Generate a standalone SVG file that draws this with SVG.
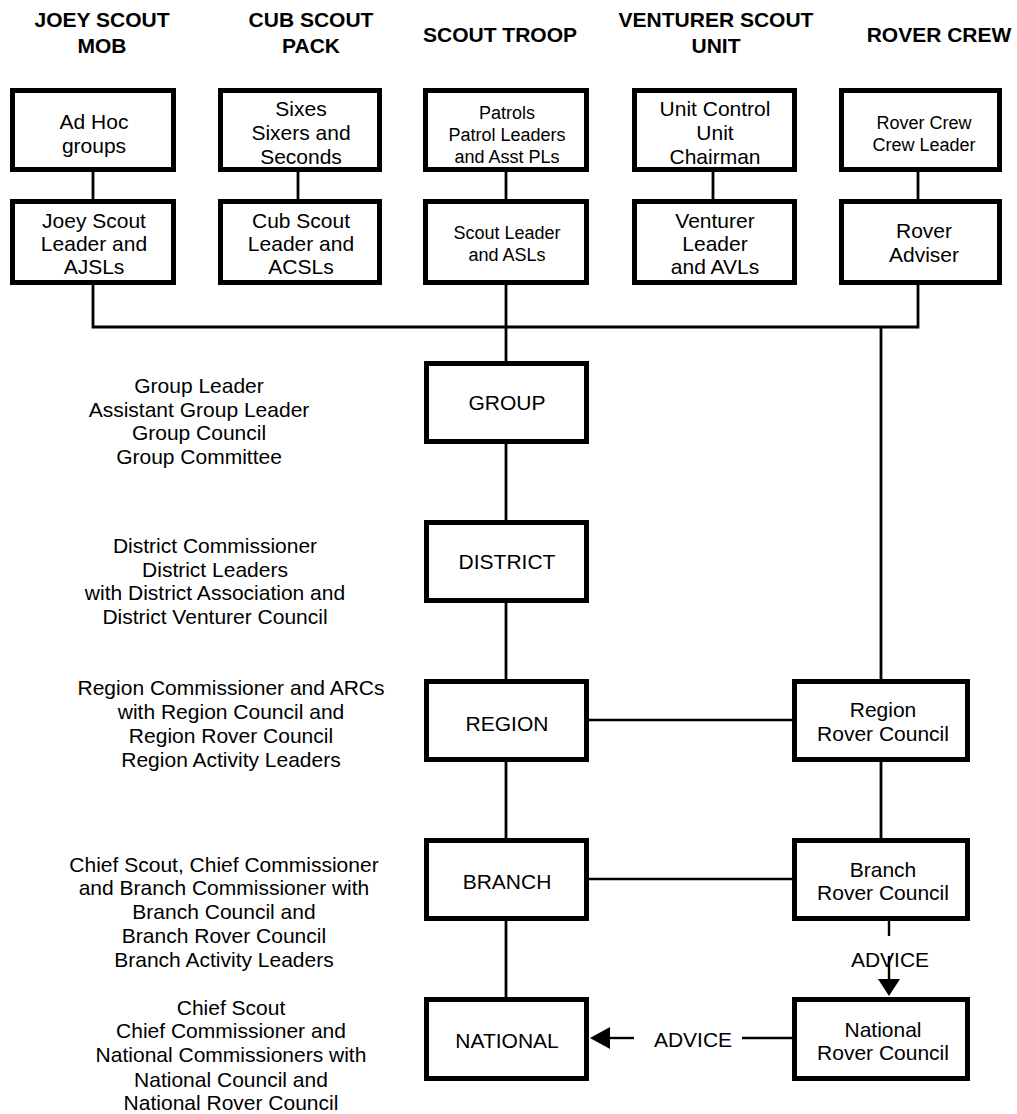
<svg xmlns="http://www.w3.org/2000/svg" width="1017" height="1114" viewBox="0 0 1017 1114">
<style>
text{font-family:"Liberation Sans",Arial,sans-serif;fill:#000;text-anchor:middle}
.t{font-size:21px;font-weight:bold}
.b{font-size:21px}
.s{font-size:18px}
.box{fill:#fff;stroke:#000;stroke-width:5}
.c{stroke:#000;stroke-width:2.8;fill:none}
.h{stroke:#000;stroke-width:2.4;fill:none}
</style>
<rect width="1017" height="1114" fill="#fff"/>
<g id="titles">
<text class="t" x="102" y="27">JOEY SCOUT</text>
<text class="t" x="102" y="53">MOB</text>
<text class="t" x="311" y="27">CUB SCOUT</text>
<text class="t" x="311" y="53">PACK</text>
<text class="t" x="500" y="42">SCOUT TROOP</text>
<text class="t" x="716" y="27">VENTURER SCOUT</text>
<text class="t" x="716" y="53">UNIT</text>
<text class="t" x="939" y="42">ROVER CREW</text>
</g>
<g id="connectors">
<line class="c" x1="93" y1="172" x2="93" y2="199"/>
<line class="c" x1="298" y1="172" x2="298" y2="199"/>
<line class="c" x1="506" y1="172" x2="506" y2="199"/>
<line class="c" x1="713" y1="172" x2="713" y2="199"/>
<line class="c" x1="918" y1="172" x2="918" y2="199"/>
<polyline class="c" points="93,285 93,327 918,327 918,285"/>
<line class="c" x1="506" y1="285" x2="506" y2="361"/>
<line class="c" x1="881" y1="327" x2="881" y2="680"/>
<line class="c" x1="506" y1="444" x2="506" y2="520"/>
<line class="c" x1="506" y1="603" x2="506" y2="679"/>
<line class="c" x1="506" y1="762" x2="506" y2="838"/>
<line class="c" x1="506" y1="921" x2="506" y2="997"/>
<line class="c" x1="881" y1="762" x2="881" y2="838"/>
<line class="h" x1="589" y1="720" x2="792" y2="720"/>
<line class="h" x1="589" y1="879" x2="792" y2="879"/>
<line class="h" x1="889" y1="921" x2="889" y2="936"/>
<line class="h" x1="889" y1="956" x2="889" y2="981"/>
<polygon points="878,979 900,979 889,996" fill="#000"/>
<text class="b" x="890" y="967">ADVICE</text>
<line class="h" x1="792" y1="1038" x2="742" y2="1038"/>
<line class="h" x1="634" y1="1038" x2="608" y2="1038"/>
<polygon points="610,1027 610,1049 590,1038" fill="#000"/>
<text class="b" x="693" y="1047">ADVICE</text>
</g>
<g id="joey-top"><rect class="box" x="12.5" y="90.5" width="161" height="79"/>
<text class="b" x="94" y="129">Ad Hoc</text><text class="b" x="94" y="153">groups</text></g>
<g id="joey-bottom"><rect class="box" x="12.5" y="201.5" width="161" height="81"/>
<text class="b" x="94" y="228">Joey Scout</text><text class="b" x="94" y="251">Leader and</text><text class="b" x="94" y="274">AJSLs</text></g>
<g id="cub-top"><rect class="box" x="220.5" y="90.5" width="159" height="79"/>
<text class="b" x="301" y="116">Sixes</text><text class="b" x="301" y="140">Sixers and</text><text class="b" x="301" y="164">Seconds</text></g>
<g id="cub-bottom"><rect class="box" x="220.5" y="201.5" width="159" height="81"/>
<text class="b" x="301" y="228">Cub Scout</text><text class="b" x="301" y="251">Leader and</text><text class="b" x="301" y="274">ACSLs</text></g>
<g id="scout-top"><rect class="box" x="425.5" y="90.5" width="161" height="79"/>
<text class="s" x="507" y="119">Patrols</text><text class="s" x="507" y="141">Patrol Leaders</text><text class="s" x="507" y="163">and Asst PLs</text></g>
<g id="scout-bottom"><rect class="box" x="425.5" y="201.5" width="161" height="81"/>
<text class="s" x="507" y="239">Scout Leader</text><text class="s" x="507" y="261">and ASLs</text></g>
<g id="venturer-top"><rect class="box" x="634.5" y="90.5" width="160" height="79"/>
<text class="b" x="715" y="116">Unit Control</text><text class="b" x="715" y="140">Unit</text><text class="b" x="715" y="164">Chairman</text></g>
<g id="venturer-bottom"><rect class="box" x="634.5" y="201.5" width="160" height="81"/>
<text class="b" x="715" y="228">Venturer</text><text class="b" x="715" y="251">Leader</text><text class="b" x="715" y="274">and AVLs</text></g>
<g id="rover-top"><rect class="box" x="841.5" y="90.5" width="158" height="79"/>
<text class="s" x="924" y="129">Rover Crew</text><text class="s" x="924" y="151">Crew Leader</text></g>
<g id="rover-bottom"><rect class="box" x="841.5" y="201.5" width="158" height="81"/>
<text class="b" x="924" y="238">Rover</text><text class="b" x="924" y="262">Adviser</text></g>
<g id="group"><rect class="box" x="426.5" y="363.5" width="160" height="78"/>
<text class="b" x="507" y="410">GROUP</text></g>
<g id="district"><rect class="box" x="426.5" y="522.5" width="160" height="78"/>
<text class="b" x="507" y="569">DISTRICT</text></g>
<g id="region"><rect class="box" x="426.5" y="681.5" width="160" height="78"/>
<text class="b" x="507" y="731">REGION</text></g>
<g id="branch"><rect class="box" x="426.5" y="840.5" width="160" height="78"/>
<text class="b" x="507" y="889">BRANCH</text></g>
<g id="national"><rect class="box" x="426.5" y="999.5" width="160" height="79"/>
<text class="b" x="507" y="1048">NATIONAL</text></g>
<g id="region-rover"><rect class="box" x="794.5" y="681.5" width="173" height="78"/>
<text class="b" x="883" y="717">Region</text><text class="b" x="883" y="741">Rover Council</text></g>
<g id="branch-rover"><rect class="box" x="794.5" y="840.5" width="173" height="78"/>
<text class="b" x="883" y="877">Branch</text><text class="b" x="883" y="900">Rover Council</text></g>
<g id="national-rover"><rect class="box" x="794.5" y="999.5" width="173" height="79"/>
<text class="b" x="883" y="1037">National</text><text class="b" x="883" y="1060">Rover Council</text></g>
<g id="group-desc">
<text class="b" x="199" y="393">Group Leader</text>
<text class="b" x="199" y="417">Assistant Group Leader</text>
<text class="b" x="199" y="440">Group Council</text>
<text class="b" x="199" y="464">Group Committee</text>
</g>
<g id="district-desc">
<text class="b" x="215" y="553">District Commissioner</text>
<text class="b" x="215" y="577">District Leaders</text>
<text class="b" x="215" y="600">with District Association and</text>
<text class="b" x="215" y="624">District Venturer Council</text>
</g>
<g id="region-desc">
<text class="b" x="231" y="695">Region Commissioner and ARCs</text>
<text class="b" x="231" y="719">with Region Council and</text>
<text class="b" x="231" y="743">Region Rover Council</text>
<text class="b" x="231" y="767">Region Activity Leaders</text>
</g>
<g id="branch-desc">
<text class="b" x="224" y="872">Chief Scout, Chief Commissioner</text>
<text class="b" x="224" y="895">and Branch Commissioner with</text>
<text class="b" x="224" y="919">Branch Council and</text>
<text class="b" x="224" y="943">Branch Rover Council</text>
<text class="b" x="224" y="967">Branch Activity Leaders</text>
</g>
<g id="national-desc">
<text class="b" x="231" y="1015">Chief Scout</text>
<text class="b" x="231" y="1038">Chief Commissioner and</text>
<text class="b" x="231" y="1062">National Commissioners with</text>
<text class="b" x="231" y="1087">National Council and</text>
<text class="b" x="231" y="1110">National Rover Council</text>
</g>
</svg>
